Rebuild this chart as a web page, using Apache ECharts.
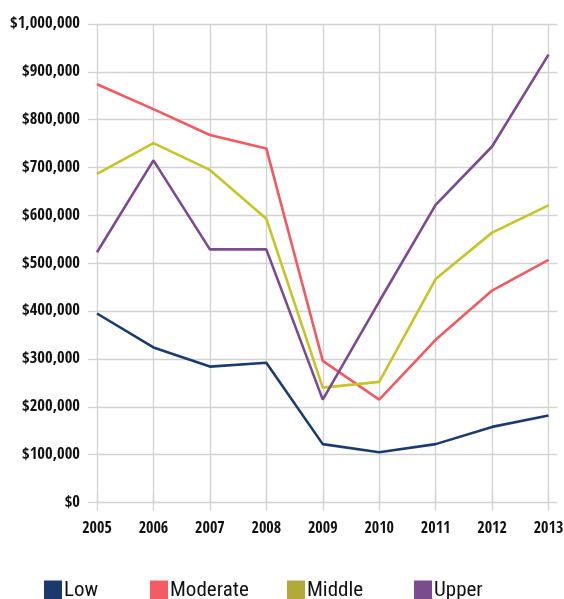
<!DOCTYPE html>
<html><head><meta charset="utf-8">
<script src="https://cdn.jsdelivr.net/npm/echarts@6/dist/echarts.min.js"></script>
<style>html,body{margin:0;padding:0;background:#fff}#c{width:564px;height:599px}</style>
</head><body><div id="c"></div>
<script>
const years = ['2005','2006','2007','2008','2009','2010','2011','2012','2013'];
const low      = [395000, 324000, 284000, 292000, 122000, 105000, 122000, 158000, 182000];
const moderate = [874000, 822000, 768000, 740000, 296000, 215000, 340000, 443000, 507000];
const middle   = [687000, 751000, 695000, 593000, 240000, 252000, 467000, 564000, 621000];
const upper    = [523000, 715000, 529000, 529000, 215000, 420000, 622000, 744000, 936000];
const seriesNames = ['Low','Moderate','Middle','Upper'];
const lineColors = ['#1c3a6e','#f25a62','#c6c426','#7b4a8f'];
const legendColors = ['#1b3a6b','#f25c62','#b3a939','#7b4b8f'];
const legendLefts = [39, 145, 282, 409];

const FONT = '"Open Sans Condensed","Roboto Condensed","DejaVu Sans Condensed",sans-serif';
const LFONT = '"Roboto Condensed","Open Sans Condensed","DejaVu Sans Condensed",sans-serif';
const gridColor = '#d2d2d2';
const chart = echarts.init(document.getElementById('c'));
const data = [low, moderate, middle, upper];

chart.setOption({
  animation: false,
  backgroundColor: '#fff',
  grid: {left: 97, right: 15.5, top: 24, bottom: 96.5, containLabel: false, outerBoundsMode: 'none'},
  legend: seriesNames.map((n, i) => ({
    data: [{name: n, itemStyle: {color: legendColors[i]}}],
    left: legendLefts[i], top: 575,
    itemWidth: 18, itemHeight: 20, itemGap: 0,
    icon: 'rect',
    textStyle: {fontFamily: LFONT, fontSize: 21, fontWeight: 'normal', color: '#111', padding: [0,0,0,-3]}
  })),
  xAxis: [{
    type: 'category', data: years, boundaryGap: false,
    axisLine: {show: false},
    axisTick: {show: true, length: 8, alignWithLabel: true, lineStyle: {color: gridColor, width: 1.3}},
    axisLabel: {fontFamily: FONT, fontSize: 16, fontWeight: 'bold', color: '#111', margin: 18},
    splitLine: {show: true, lineStyle: {color: gridColor, width: 1.3}}
  }, {
    type: 'category', data: years, boundaryGap: false, position: 'top',
    axisLine: {show: false},
    axisTick: {show: true, length: 8, lineStyle: {color: gridColor, width: 1.3}},
    axisLabel: {show: false}, splitLine: {show: false}
  }],
  yAxis: [{
    type: 'value', min: 0, max: 1000000, interval: 100000,
    axisLine: {show: false},
    axisTick: {show: true, length: 9, lineStyle: {color: gridColor, width: 1.3}},
    axisLabel: {fontFamily: FONT, fontSize: 16.5, fontWeight: 'bold', color: '#111', margin: 17,
      formatter: v => '$' + v.toLocaleString('en-US')},
    splitLine: {show: true, lineStyle: {color: gridColor, width: 1.3}}
  }, {
    type: 'value', min: 0, max: 1000000, interval: 100000, position: 'right',
    axisLine: {show: false},
    axisTick: {show: true, length: 9, lineStyle: {color: gridColor, width: 1.3}},
    axisLabel: {show: false}, splitLine: {show: false}
  }],
  series: seriesNames.map((n, i) => ({
    name: n, type: 'line', data: data[i], symbol: 'none', smooth: false,
    lineStyle: {color: lineColors[i], width: 2.6},
    itemStyle: {color: legendColors[i]},
    z: 3 + i
  }))
});
</script></body></html>
